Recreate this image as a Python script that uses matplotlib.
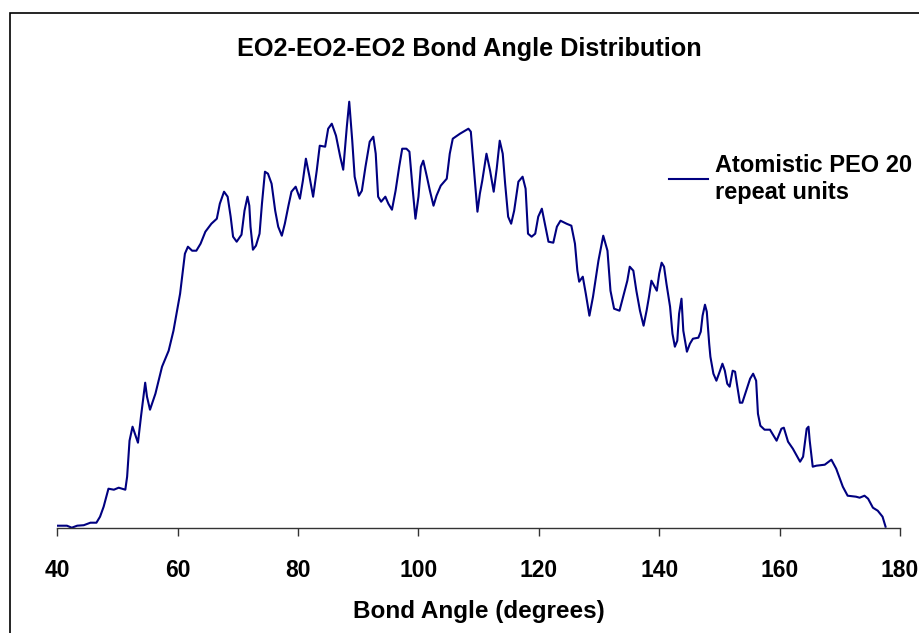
import matplotlib
matplotlib.use("Agg")
import matplotlib.pyplot as plt
from matplotlib.patches import Rectangle
from matplotlib.lines import Line2D

plt.rcParams['font.family'] = ['Liberation Sans', 'DejaVu Sans']

# bond angle (degrees) and distribution value (arbitrary units)
angle = [40.0, 41.6, 42.4, 43.3, 44.4, 45.5, 46.5, 47.1, 47.7, 48.5, 49.4, 50.2, 51.3, 51.6,
         52.0, 52.5, 53.4, 53.9, 54.6, 54.9, 55.4, 56.3, 57.4, 58.5, 59.3, 60.4, 61.2, 61.7,
         62.4, 63.1, 63.8, 64.6, 65.6, 66.5, 67.0, 67.7, 68.3, 68.8, 69.2, 69.8, 70.6, 71.1,
         71.6, 71.9, 72.1, 72.5, 73.0, 73.6, 74.0, 74.5, 75.0, 75.6, 76.2, 76.7, 77.3, 77.8,
         78.4, 78.9, 79.6, 80.3, 80.8, 81.3, 81.9, 82.5, 83.1, 83.6, 84.5, 85.0, 85.6, 86.3,
         87.0, 87.5, 88.1, 88.5, 89.0, 89.4, 90.1, 90.6, 91.2, 91.9, 92.5, 92.9, 93.3, 93.8,
         94.5, 95.0, 95.6, 96.2, 96.8, 97.3, 98.0, 98.5, 99.0, 99.5, 100.0, 100.4, 100.8,
         101.4, 101.9, 102.5, 103.0, 103.7, 104.7, 105.2, 105.7, 106.9, 108.3, 108.7, 109.1,
         109.8, 110.2, 110.6, 111.3, 111.9, 112.5, 113.0, 113.5, 114.0, 114.4, 114.9, 115.4,
         115.9, 116.6, 117.3, 117.8, 118.2, 118.8, 119.4, 119.9, 120.5, 120.9, 121.6, 122.4,
         123.0, 123.6, 124.6, 125.4, 126.0, 126.4, 126.7, 127.3, 127.8, 128.4, 129.0, 129.9,
         130.7, 131.4, 131.9, 132.5, 133.4, 134.0, 134.7, 135.1, 135.7, 136.2, 136.8, 137.4,
         137.9, 138.3, 138.7, 139.6, 140.0, 140.4, 140.8, 141.2, 141.8, 142.2, 142.6, 143.0,
         143.3, 143.7, 144.0, 144.6, 145.1, 145.6, 146.5, 146.9, 147.2, 147.6, 147.9, 148.3,
         148.5, 149.0, 149.5, 150.1, 150.5, 150.9, 151.3, 151.7, 152.2, 152.6, 152.9, 153.4,
         153.8, 154.4, 155.1, 155.6, 156.1, 156.4, 156.8, 157.5, 158.4, 158.8, 159.5, 160.3,
         160.7, 161.4, 162.2, 163.4, 163.9, 164.5, 164.8, 165.0, 165.5, 166.1, 167.5, 168.6,
         169.4, 170.5, 171.3, 172.7, 173.3, 174.1, 174.7, 175.5, 176.3, 177.1, 177.6]
value = [2, 2, 0, 2, 2.5, 5, 5, 11, 21, 39, 38, 40, 38, 51,
         87, 101, 85, 111, 145, 131, 118, 134, 161, 177, 197, 234, 274, 281,
         277, 277, 284, 296, 304, 309, 324, 336, 331, 311, 291, 286, 293, 317,
         331, 322, 301, 278, 282, 294, 324, 356, 354, 344, 317, 301, 292, 304,
         322, 336, 341, 329, 347, 369, 351, 331, 357, 382, 381, 399, 404, 392,
         371, 358, 401, 426, 387, 351, 332, 337, 361, 386, 391, 374, 331, 326,
         331, 324, 318, 337, 361, 379, 379, 376, 341, 309, 331, 361, 367,
         351, 337, 322, 332, 342, 349, 374, 389, 394, 399, 396, 367,
         316, 334, 347, 374, 357, 336, 359, 387, 374, 344, 311, 304,
         317, 346, 351, 339, 294, 291, 294, 311, 319, 307, 286, 285,
         301, 307, 304, 302, 284, 257, 246, 251, 234, 212, 231, 267,
         292, 277, 237, 219, 217, 231, 247, 261, 257, 237, 217, 202,
         217, 231, 247, 237, 254, 265, 261, 244, 221, 194, 181, 187,
         214, 229, 197, 176, 184, 189, 190, 196, 212, 223, 216, 184,
         171, 154, 147, 157, 164, 157, 144, 141, 157, 156, 144, 125,
         125, 136, 149, 154, 147, 114, 102, 98, 98, 94, 87, 99,
         100, 86, 79, 66, 71, 99, 101, 87, 61, 62, 63, 68,
         59, 41, 32, 31, 30, 32, 29, 20, 17, 11, 1]

series_label = "Atomistic PEO 20\nrepeat units"
title = "EO2-EO2-EO2 Bond Angle Distribution"
xticks = [40, 60, 80, 100, 120, 140, 160, 180]

W, H = 919, 633
fig = plt.figure(figsize=(W / 100, H / 100), dpi=100)
ax = fig.add_axes([57.3 / W, (H - 527.7) / H, (900 - 57.3) / W, (527.7 - 90) / H])

ax.plot(angle, value, color='#000080', lw=1.5, solid_joinstyle='round')
ax.set_xlim(40, 180)
ax.set_ylim(0, 437.7)

for s in ['left', 'right', 'top']:
    ax.spines[s].set_visible(False)
ax.spines['bottom'].set_color('#333333')
ax.spines['bottom'].set_linewidth(1.0)
ax.set_yticks([])
ax.set_xticks(xticks)
ax.tick_params(axis='x', direction='out', length=5.5, width=1.0, color='#333333',
               labelsize=16.5, pad=17)
for lab in ax.get_xticklabels():
    lab.set_fontweight('bold')
ax.set_xlabel("Bond Angle (degrees)", fontsize=17.5, fontweight='bold', labelpad=13)

fig.text(469 / W, 1 - 49 / H, title, ha='center', va='center', fontsize=18.2, fontweight='bold')

# legend drawn by hand so the line sits on the first text row
fig.add_artist(Line2D([669 / W, 708 / W], [1 - 179 / H, 1 - 179 / H], color='#000080', lw=1.5,
                      transform=fig.transFigure))
fig.text(715 / W, 1 - 179 / H, series_label, ha='left', va='center', fontsize=17,
         fontweight='bold', linespacing=1.25)

# outer chart frame (only left and top edges are inside the picture)
fig.add_artist(Rectangle((9.5 / W, -0.1), 1.2, 1.1 - 13.5 / H, transform=fig.transFigure,
                         fill=False, ec='black', lw=1.2))

fig.savefig("out.png", dpi=100)
